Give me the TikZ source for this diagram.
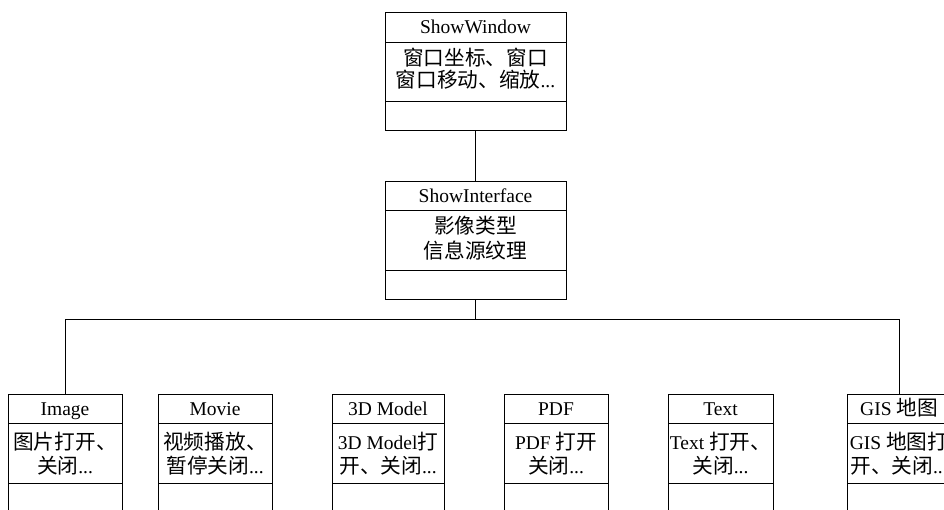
\documentclass[tikz,border=0pt]{standalone}
\usepackage{fontspec}
\setmainfont{Liberation Serif}
\newfontfamily\cjk[Scale=1.06]{Noto Sans CJK SC}
\newcommand{\zh}[1]{{\cjk #1}}
\tikzset{
  box/.style={draw, line width=1pt, rectangle, inner sep=0pt, outer sep=0pt},
  txt/.style={font=\fontsize{19.5}{22}\selectfont, inner sep=0pt},
  conn/.style={line width=1pt}
}
\newcommand\umlbox[9]{%
  \node[box, minimum width=#4pt, minimum height=118pt, anchor=north] (#1) at (#2,#3) {};
  \draw[conn] ([yshift=-29.5pt]#1.north west) -- ([yshift=-29.5pt]#1.north east);
  \draw[conn] ([yshift=-89pt]#1.north west) -- ([yshift=-89pt]#1.north east);
  \node[txt, anchor=base] (#1-t) at ([yshift=-21pt]#1.north) {#5};
  \node[txt, anchor=base] (#1-a) at ([yshift=-#8pt]#1.north) {#6};
  \node[txt, anchor=base] (#1-b) at ([yshift=-#8pt-#9pt]#1.north) {#7};
}
\begin{document}
\begin{tikzpicture}[x=1pt,y=-1pt]
  \useasboundingbox (0,0) rectangle (944,509);
  \clip (0,0) rectangle (944,509);
  \umlbox{win}{475.5}{12.5}{181}{ShowWindow}{\zh{窗口坐标、窗口}}{\zh{窗口移动、缩放}...}{52.5}{22}
  \umlbox{iface}{475.5}{181}{181}{ShowInterface}{\zh{影像类型}}{\zh{信息源纹理}}{52}{25}
  \umlbox{img}{65}{394}{114}{Image}{\zh{图片打开、}}{\zh{关闭}...}{55.5}{24}
  \umlbox{mov}{215}{394}{114}{Movie}{\zh{视频播放、}}{\zh{暂停关闭}...}{55.5}{24}
  \umlbox{mdl}{388}{394}{112}{3D Model}{3D Model\zh{打}}{\zh{开、关闭}...}{55.5}{24}
  \umlbox{pdf}{556}{394}{104}{PDF}{PDF \zh{打开}}{\zh{关闭}...}{55.5}{24}
  \umlbox{txt}{720.5}{394}{105}{Text}{Text \zh{打开、}}{\zh{关闭}...}{55.5}{24}
  \umlbox{gis}{899}{394}{104}{GIS \zh{地图}}{GIS \zh{地图打}}{\zh{开、关闭}...}{55.5}{24}
  \coordinate (bus) at (475.5,319);
  \draw[conn] (win.south) -- (iface.north);
  \draw[conn] (iface.south) -- (bus) -| (img.north);
  \draw[conn] (bus) -| (gis.north);
\end{tikzpicture}
\end{document}
